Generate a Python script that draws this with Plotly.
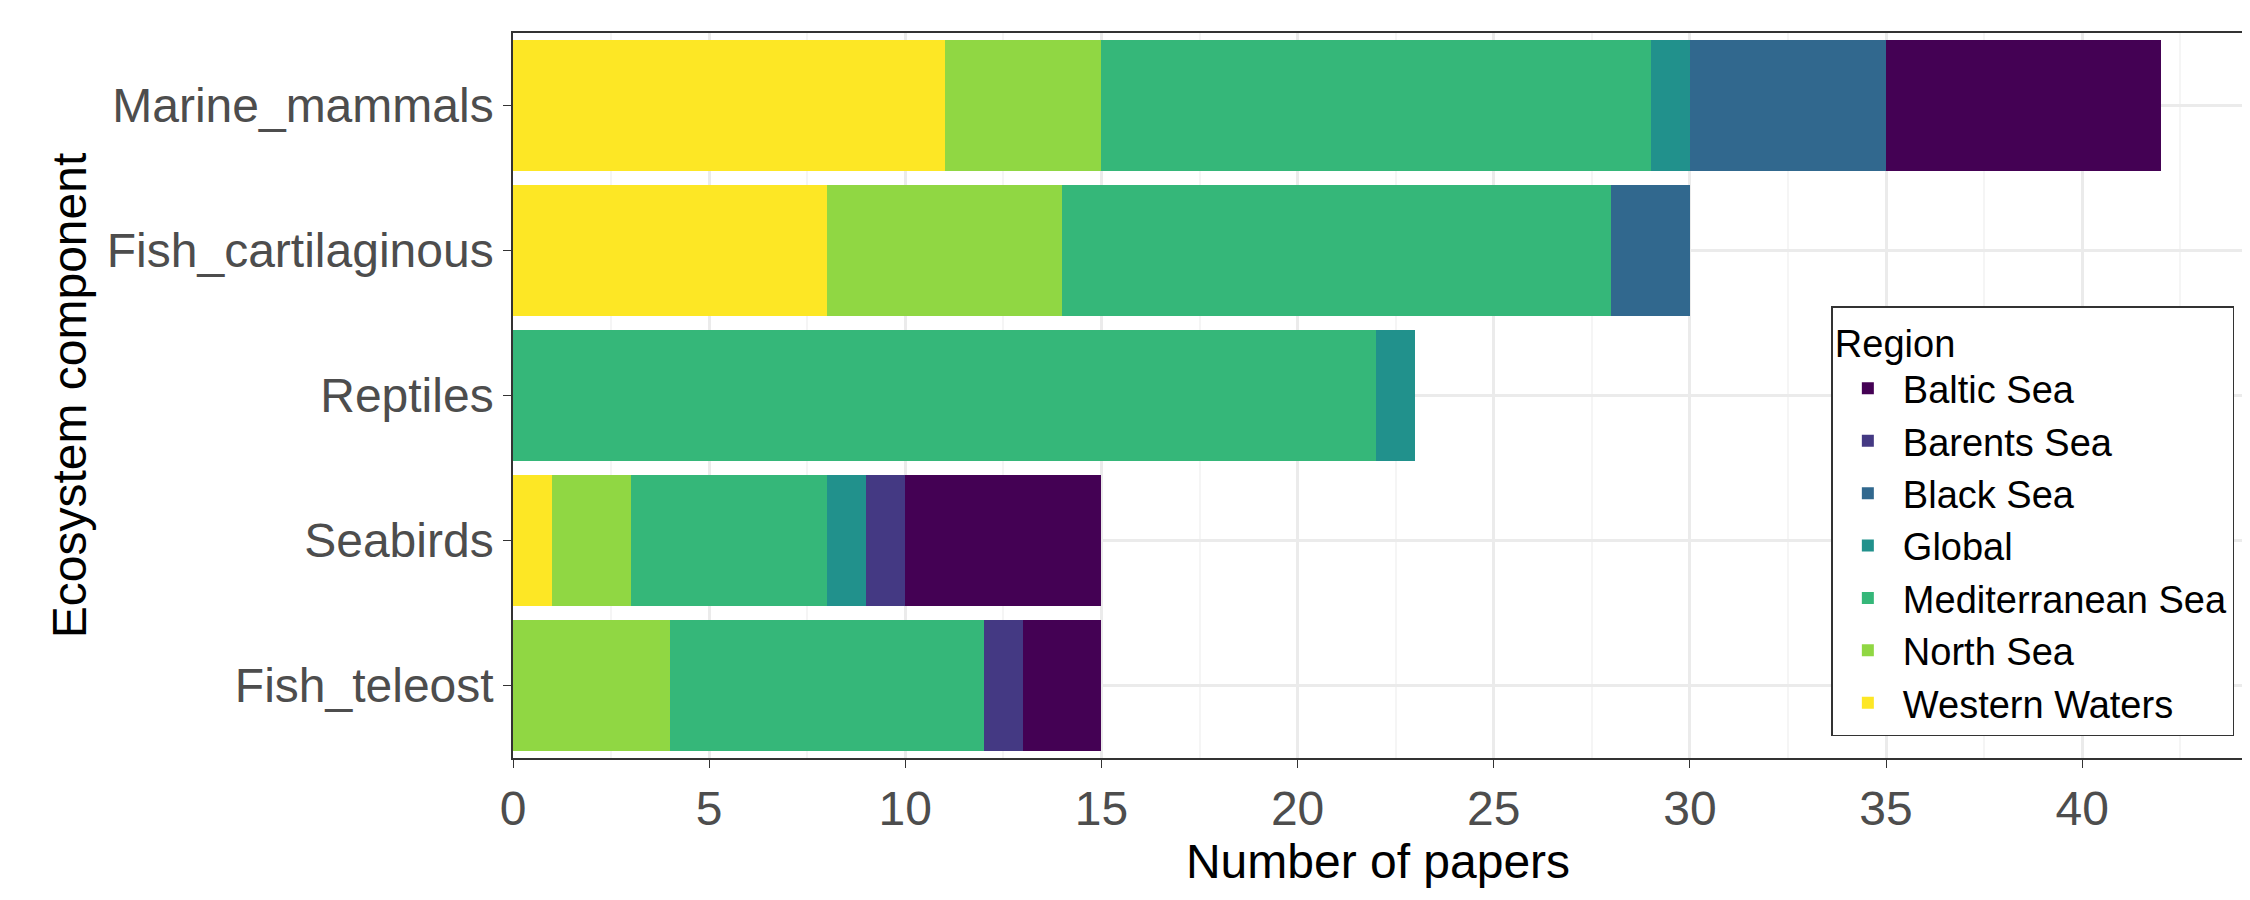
import plotly.graph_objects as go

components = ["Fish_teleost", "Seabirds", "Reptiles", "Fish_cartilaginous", "Marine_mammals"]

# counts per region, in the order of components above
western_waters = [0, 1, 0, 8, 11]
north_sea = [4, 2, 0, 6, 4]
mediterranean = [8, 5, 22, 14, 14]
global_ = [0, 1, 1, 0, 1]
black_sea = [0, 0, 0, 2, 5]
barents_sea = [1, 1, 0, 0, 0]
baltic_sea = [2, 5, 0, 0, 7]

series = [
    ("Western Waters", western_waters, "#fde725"),
    ("North Sea", north_sea, "#90d743"),
    ("Mediterranean Sea", mediterranean, "#35b779"),
    ("Global", global_, "#21918c"),
    ("Black Sea", black_sea, "#31688e"),
    ("Barents Sea", barents_sea, "#443983"),
    ("Baltic Sea", baltic_sea, "#440154"),
]

fig = go.Figure()
for name, vals, col in series:
    fig.add_trace(go.Bar(y=components, x=vals, name=name, orientation="h",
                         marker=dict(color=col, line=dict(width=0))))

fig.update_layout(
    barmode="stack",
    bargap=0.1,
    width=2250, height=900,
    plot_bgcolor="white", paper_bgcolor="white",
    margin=dict(l=505, r=15, t=25, b=150),
    font=dict(family="Liberation Sans, Arial", size=48, color="#4d4d4d"),
    legend=dict(
        title=dict(text="Region", font=dict(size=38, color="black")),
        traceorder="reversed",
        font=dict(size=38, color="black"),
        x=0.995, y=0.03, xanchor="right", yanchor="bottom",
        bordercolor="#333333", borderwidth=1.5, bgcolor="white",
        itemwidth=60, tracegroupgap=0,
    ),
    xaxis=dict(
        title=dict(text="Number of papers", font=dict(size=48, color="black"), standoff=5),
        range=[0, 44.1], tickvals=[0, 5, 10, 15, 20, 25, 30, 35, 40],
        showgrid=True, gridcolor="#ebebeb", gridwidth=3,
        minor=dict(dtick=2.5, tick0=0, showgrid=True, gridcolor="#f5f5f5", gridwidth=1.5),
        zeroline=False, ticks="outside", ticklen=8, tickcolor="#333333",
        showline=True, linecolor="#333333", mirror=True, linewidth=1.5,
    ),
    yaxis=dict(
        title=dict(text="Ecosystem component", font=dict(size=48, color="black"), standoff=5),
        showgrid=True, gridcolor="#ebebeb", gridwidth=3,
        ticks="outside", ticklen=8, tickcolor="#333333",
        showline=True, linecolor="#333333", mirror=True, linewidth=1.5,
    ),
)

fig.write_html("out.html")
